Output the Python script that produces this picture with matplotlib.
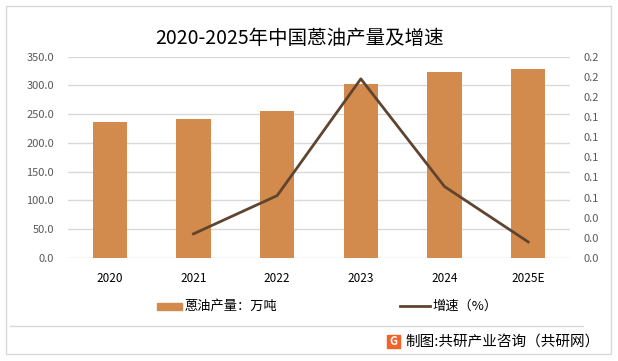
import matplotlib
matplotlib.use("Agg")
import matplotlib.pyplot as plt
import numpy as np
from matplotlib.patches import Rectangle
from matplotlib.lines import Line2D

plt.rcParams['font.family'] = ['Noto Sans CJK SC', 'DejaVu Sans']

years = ['2020', '2021', '2022', '2023', '2024', '2025E']
output = [237.0, 241.7, 255.6, 302.5, 323.4, 328.6]          # 万吨
growth_years = ['2021', '2022', '2023', '2024', '2025E']
growth = [0.024, 0.062, 0.178, 0.071, 0.016]

bar_color = '#D38B4D'
line_color = '#5F4430'
grid_color = '#D9D9D9'

fig = plt.figure(figsize=(6.18, 3.61), dpi=100)
fig.patches.append(Rectangle((6 / 618, 7 / 361), 605 / 618, 348 / 361,
                             transform=fig.transFigure, fill=False,
                             edgecolor='#D9D9D9', linewidth=1))

ax = fig.add_axes([68 / 618, 103 / 361, 502 / 618, 201.3 / 361])
x = np.arange(len(years))
ax.bar(x, output, width=0.41, color=bar_color, zorder=2)
ax.set_xlim(-0.5, len(years) - 0.5)
ax.set_ylim(0, 350)
ax.set_yticks(np.arange(0, 351, 50))
ax.set_yticklabels(['%.1f' % v for v in np.arange(0, 351, 50)])
ax.set_xticks(x)
ax.set_xticklabels(years)
ax.grid(axis='y', color=grid_color, linewidth=1, zorder=0)
for s in ax.spines.values():
    s.set_visible(False)
ax.tick_params(axis='y', length=0, pad=10, labelsize=8, labelcolor='#595959')
ax.tick_params(axis='x', length=0, pad=10, labelsize=8.5, labelcolor='#000000')

ax2 = ax.twinx()
gx = [years.index(y) for y in growth_years]
ax2.plot(gx, growth, color=line_color, linewidth=2, zorder=3)
ax2.set_ylim(0, 0.2)
ticks = np.linspace(0, 0.2, 11)
ax2.set_yticks(ticks)
ax2.set_yticklabels(['%.1f' % t for t in ticks])
for s in ax2.spines.values():
    s.set_visible(False)
ax2.tick_params(axis='y', length=0, pad=10, labelsize=8, labelcolor='#595959')

fig.text(300 / 618, 1 - 38 / 361, '2020-2025年中国蒽油产量及增速', ha='center', va='center',
         fontsize=14, color='#000000')

# legend
fig.patches.append(Rectangle((157 / 618, 1 - 309.5 / 361), 25 / 618, 7 / 361,
                             transform=fig.transFigure, color=bar_color))
fig.text(185 / 618, 1 - 306 / 361, '蒽油产量：万吨', ha='left', va='center', fontsize=9.5)
fig.lines.append(Line2D([400 / 618, 430 / 618], [1 - 306 / 361, 1 - 306 / 361],
                        transform=fig.transFigure, color=line_color, linewidth=2))
fig.text(432 / 618, 1 - 306 / 361, '增速（%）', ha='left', va='center', fontsize=9.5)

# footer
fig.lines.append(Line2D([10 / 618, 583 / 618], [1 - 325.5 / 361, 1 - 325.5 / 361],
                        transform=fig.transFigure, color='#D9D9D9', linewidth=1))
fig.patches.append(Rectangle((387 / 618, 1 - 348 / 361), 13 / 618, 13 / 361,
                             transform=fig.transFigure, color='#F0642A'))
fig.text(393.5 / 618, 1 - 341.5 / 361, 'G', ha='center', va='center', fontsize=8,
         color='white', fontweight='bold')
fig.text(405 / 618, 1 - 341.5 / 361, '制图:共研产业咨询（共研网）', ha='left', va='center',
         fontsize=10.5, color='#000000')

fig.savefig('out.png', dpi=100)
